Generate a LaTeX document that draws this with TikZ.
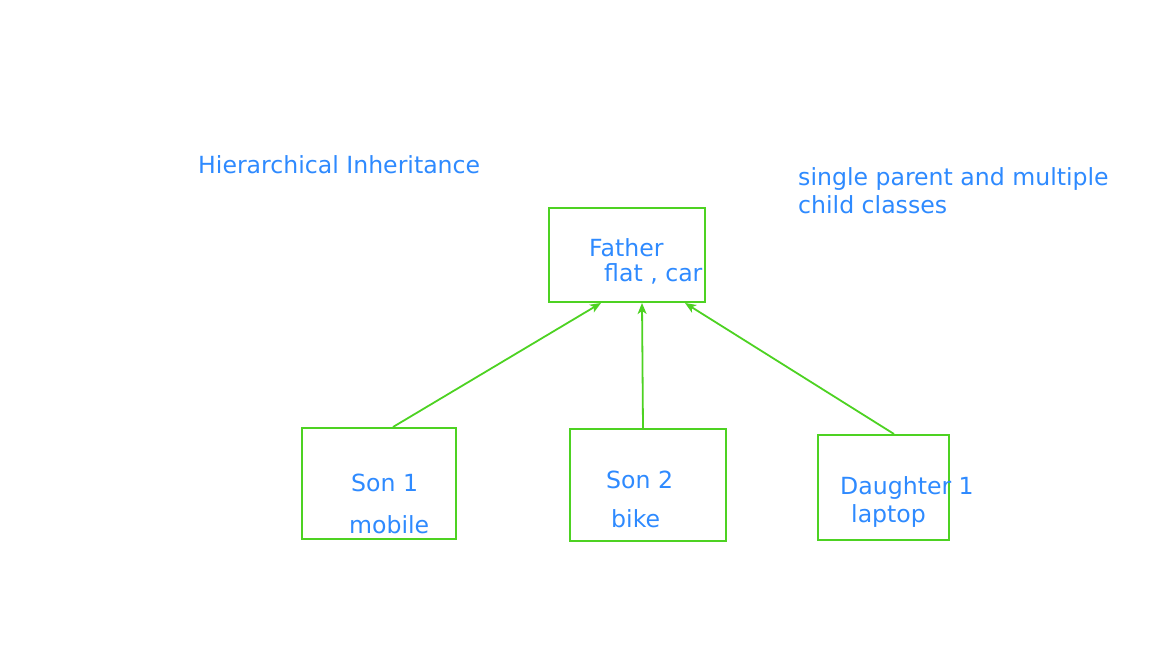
\documentclass[tikz,border=0pt]{standalone}
\usepackage{fontspec}
\setmainfont{DejaVu Sans}
\usetikzlibrary{arrows.meta}
\definecolor{boxgreen}{RGB}{77,210,34}
\definecolor{txtblue}{RGB}{46,138,255}
\begin{document}
\begin{tikzpicture}[x=1pt,y=-1pt,
  box/.style={draw=boxgreen,line width=2pt},
  lbl/.style={anchor=base west,inner sep=0pt,text=txtblue,font=\fontsize{23.6}{28}\selectfont},
  conn/.style={draw=boxgreen,line width=1.8pt,-{Stealth[length=11pt,width=9pt,inset=3pt]}}]
\useasboundingbox (0,0) rectangle (1168,657);
\path[box] (549,208) rectangle (705,302) node[pos=0.5,inner sep=0pt,minimum width=156pt,minimum height=94pt] (f) {};
\path[box] (302,428) rectangle (456,539) node[pos=0.5,inner sep=0pt,minimum width=154pt,minimum height=111pt] (s1) {};
\path[box] (570,429) rectangle (726,541) node[pos=0.5,inner sep=0pt,minimum width=156pt,minimum height=112pt] (s2) {};
\path[box] (818,435) rectangle (949,540) node[pos=0.5,inner sep=0pt,minimum width=131pt,minimum height=105pt] (d1) {};
\node[lbl] (title) at (198,173) {Hierarchical Inheritance};
\node[lbl] (note1) at (798,185) {single parent and multiple};
\node[lbl] (note2) at (798,213) {child classes};
\node[lbl] (fa) at (589,256) {Father};
\node[lbl] (fb) at (604,281) {flat , car};
\node[lbl] (sa) at (351,491) {Son 1};
\node[lbl] (sb) at (349,533) {mobile};
\node[lbl] (ta) at (606,488) {Son 2};
\node[lbl] (tb) at (611,527) {bike};
\node[lbl] (da) at (840,494) {Daughter 1};
\node[lbl] (db) at (851,522) {laptop};
\draw[conn] ([xshift=14pt]s1.north) -- ([xshift=-26pt]f.south);
\draw[conn] ([xshift=-5pt]s2.north) -- ([xshift=15pt]f.south);
\draw[conn] ([xshift=10.5pt]d1.north) -- ([xshift=58pt]f.south);
\end{tikzpicture}
\end{document}
